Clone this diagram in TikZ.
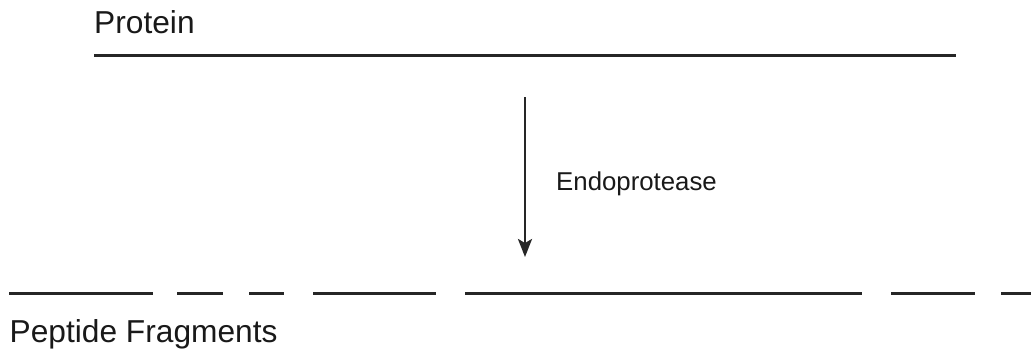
\documentclass[tikz,border=0pt]{standalone}
\usepackage{fontspec}
\setmainfont{Liberation Sans}
\usetikzlibrary{arrows.meta}
\begin{document}
\begin{tikzpicture}[x=1pt,y=-1pt,
  chain/.style={line width=3pt,color=black!85},
  lbl/.style={inner sep=0pt,anchor=base west,text=black!90},
  biglbl/.style={lbl,font=\fontsize{31.7}{38}\selectfont},
  smalllbl/.style={lbl,font=\fontsize{25.8}{31}\selectfont}]
\useasboundingbox (0,0) rectangle (1031,354);
\node[biglbl] (protein) at (94,33.3) {Protein};
\node[smalllbl] (enzyme) at (556,190.7) {Endoprotease};
\node[biglbl] (peptides) at (9.5,342.7) {Peptide Fragments};
\coordinate (p1) at (94,55);
\coordinate (p2) at (956,55);
\draw[chain] (p1) -- (p2);
\coordinate (a1) at (525,97);
\coordinate (a2) at (525,257);
\draw[line width=2.6pt,color=black!85,-{Stealth[length=18pt,width=14pt,inset=4pt]}] (a1) -- (a2);
\foreach \xa/\xb in {9.3/153.3,177.3/222.7,249/284,313.3/436,465/862.3,891/975,1001/1031}{
  \draw[chain] (\xa,293) -- (\xb,293);
}
\end{tikzpicture}
\end{document}
